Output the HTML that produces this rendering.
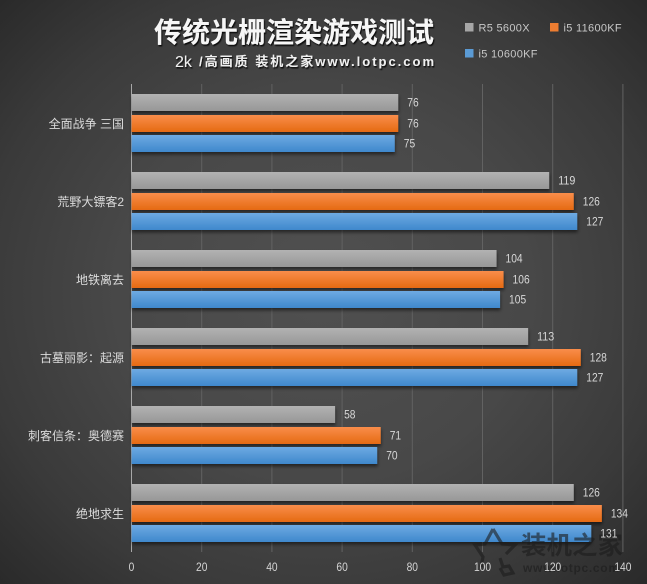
<!DOCTYPE html>
<html lang="zh">
<head>
<meta charset="utf-8">
<title>传统光栅渲染游戏测试</title>
<style>
html,body{margin:0;padding:0;background:#3a3a3a;}
#chart{position:relative;width:647px;height:584px;overflow:hidden;font-family:"Liberation Sans","Noto Sans CJK SC",sans-serif;
background:radial-gradient(ellipse 460px 420px at 323px 292px,#505050 0%,#484848 45%,#3a3a3a 75%,#292929 100%);}
svg{position:absolute;left:0;top:0;display:block;}
</style>
</head>
<body>
<div id="chart">
<svg id="svg" width="647" height="584" viewBox="0 0 647 584" xmlns="http://www.w3.org/2000/svg">
<defs>
<linearGradient id="g-grey" x1="0" y1="0" x2="0" y2="1"><stop offset="0" stop-color="#b2b2b2"/><stop offset="1" stop-color="#979797"/></linearGradient>
<linearGradient id="g-orange" x1="0" y1="0" x2="0" y2="1"><stop offset="0" stop-color="#f98d4b"/><stop offset="1" stop-color="#e56a12"/></linearGradient>
<linearGradient id="g-blue" x1="0" y1="0" x2="0" y2="1"><stop offset="0" stop-color="#6eaae2"/><stop offset="1" stop-color="#3f88cc"/></linearGradient>
<filter id="bar-shadow" x="-5%" y="-30%" width="110%" height="170%"><feDropShadow dx="0.5" dy="2.5" stdDeviation="1.6" flood-color="#000" flood-opacity="0.5"/></filter>
<filter id="title-shadow" x="-5%" y="-20%" width="110%" height="150%"><feDropShadow dx="1" dy="1.5" stdDeviation="0.6" flood-color="#000" flood-opacity="0.85"/></filter>
</defs>
<g id="grid"></g>
<g id="bars"></g>
<g opacity="0.6">
<path d="M493 529 L502 544 L515 545 L506 554 M493 529 L485 544 L475 545 L483 557 L481 567 M500 558 L503 567 L509 566 L513 573 L504 575 L500 568" fill="none" stroke="#1c1c1c" stroke-width="3.2"/>
<text x="521" y="554" font-size="25" font-weight="700" fill="#1c1c1c" textLength="102" lengthAdjust="spacingAndGlyphs">装机之家</text>
<text x="523" y="572" font-size="12" font-weight="700" fill="#1c1c1c" textLength="96">www.lotpc.com</text>
</g>
<g id="labels"></g>
<g id="ticks"></g>
<g filter="url(#title-shadow)">
<text x="154" y="42" font-size="28" font-weight="700" fill="#f6f6f6" textLength="280" lengthAdjust="spacingAndGlyphs">传统光栅渲染游戏测试</text>
<text x="175" y="67" font-size="16" fill="#f0f0f0">2k</text>
<text x="199" y="66" font-size="13" font-weight="700" fill="#f0f0f0" textLength="235" lengthAdjust="spacing">/高画质 装机之家www.lotpc.com</text>
</g>
<g id="legend"></g>
</svg>
</div>
<script>
var categories = ["全面战争 三国", "荒野大镖客2", "地铁离去", "古墓丽影：起源", "刺客信条：奥德赛", "绝地求生"];
var seriesNames = ["R5 5600X", "i5 11600KF", "i5 10600KF"];
var r5Values = [76, 119, 104, 113, 58, 126];
var i5_11600Values = [76, 126, 106, 128, 71, 134];
var i5_10600Values = [75, 127, 105, 127, 70, 131];
var tickValues = [0, 20, 40, 60, 80, 100, 120, 140];

var NS = "http://www.w3.org/2000/svg";
var allSeries = [r5Values, i5_11600Values, i5_10600Values];
var fills = ["url(#g-grey)", "url(#g-orange)", "url(#g-blue)"];
var swatches = ["#a6a6a6", "#ed7d31", "#5b9bd5"];
var barOffsets = [10, 31, 51];
var plotLeft = 131.5, plotTop = 84, plotBottom = 552, groupH = 78, unit = 3.51, barH = 17, digitW = 5.7;
function xScale(v) { return plotLeft + v * unit; }
function groupY(i) { return plotTop + i * groupH; }
function mk(tag, attrs, parent, txt) {
  var el = document.createElementNS(NS, tag);
  for (var k in attrs) el.setAttribute(k, attrs[k]);
  if (txt !== undefined) el.textContent = txt;
  parent.appendChild(el);
  return el;
}
var gridG = document.getElementById("grid");
var barsG = document.getElementById("bars");
var labelsG = document.getElementById("labels");
var ticksG = document.getElementById("ticks");
var legendG = document.getElementById("legend");

tickValues.forEach(function (t) {
  var x = xScale(t);
  var line = mk("line", { x1: x, x2: x, y1: plotTop, y2: plotBottom, stroke: t === 0 ? "#a8a8a8" : "#626262", "stroke-width": 1 }, gridG);
  
  
  var label = mk("text", { x: x, y: 571, "text-anchor": "middle", "font-size": 12, fill: "#d4d4d4", textLength: String(t).length * digitW, lengthAdjust: "spacingAndGlyphs" }, ticksG, t);
  
  
});

categories.forEach(function (c, i) {
  var cat = mk("text", { x: 124, y: groupY(i) + 44, "text-anchor": "end", "font-size": 12, fill: "#dcdcdc" }, labelsG, c);
  
  
  allSeries.forEach(function (vals, s) {
    var y = groupY(i) + barOffsets[s];
    var bar = mk("rect", { x: plotLeft, y: y, width: xScale(vals[i]) - plotLeft, height: barH, fill: fills[s], filter: "url(#bar-shadow)" }, barsG);
    
    
    var val = mk("text", { x: xScale(vals[i]) + 9, y: y + 12.5, "font-size": 12, fill: "#d8d8d8", textLength: String(vals[i]).length * digitW, lengthAdjust: "spacingAndGlyphs" }, labelsG, vals[i]);
    
    
  });
});

var legendX = [465, 550, 465];
var legendY = [23, 23, 49];
seriesNames.forEach(function (n, s) {
  var sw = mk("rect", { x: legendX[s], y: legendY[s], width: 8.5, height: 8.5, fill: swatches[s] }, legendG);
  
  
  var tx = mk("text", { x: legendX[s] + 13.5, y: legendY[s] + 8.5, "font-size": 11, fill: "#c8c8c8", "letter-spacing": 0.3 }, legendG, n);
  
  
});
</script>
</body>
</html>
